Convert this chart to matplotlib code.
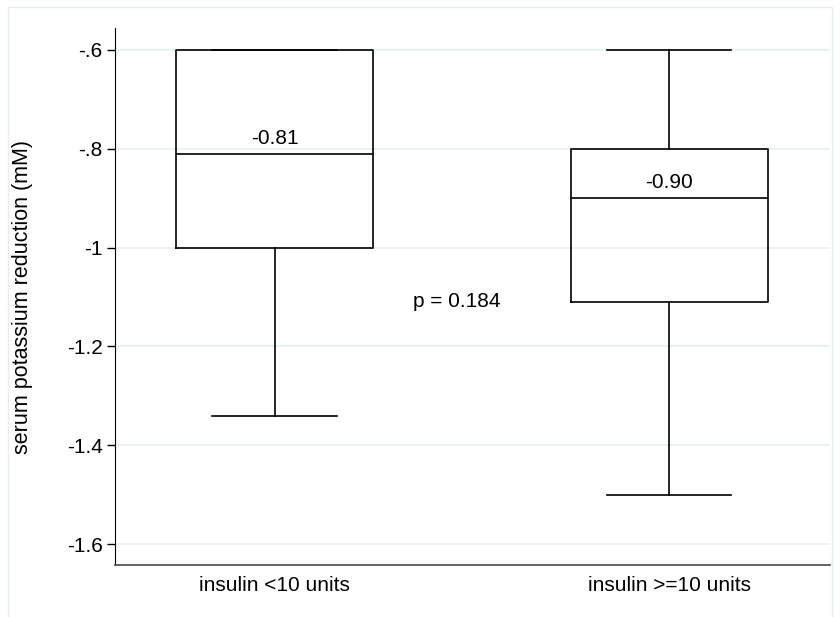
import matplotlib.pyplot as plt
from matplotlib.patches import Rectangle

plt.rcParams['font.family'] = ['Liberation Sans', 'DejaVu Sans']

# box plot summaries
groups = ["insulin <10 units", "insulin >=10 units"]
medians = [-0.81, -0.90]
q1 = [-1.00, -1.11]
q3 = [-0.60, -0.80]
whislo = [-1.34, -1.50]
whishi = [-0.60, -0.60]
median_labels = ["-0.81", "-0.90"]
p_text = "p = 0.184"

yticks = [-0.6, -0.8, -1.0, -1.2, -1.4, -1.6]
ytick_labels = ["-.6", "-.8", "-1", "-1.2", "-1.4", "-1.6"]

fig = plt.figure(figsize=(8.4, 6.17), dpi=100)
W, H = 840, 617
ax = fig.add_axes([115 / W, 1 - 565 / H, (830 - 115) / W, (565 - 28) / H])

# light outer frame like Stata graph region
fig.patches.append(Rectangle((8 / W, -0.05), (832 - 8) / W, 1.05 - 7 / H,
                             transform=fig.transFigure, fill=False,
                             edgecolor="#e6eef0", lw=1.0))

stats = []
for i in range(len(groups)):
    stats.append({"med": medians[i], "q1": q1[i], "q3": q3[i],
                  "whislo": whislo[i], "whishi": whishi[i], "fliers": []})

pos = [1, 2]
ax.bxp(stats, positions=pos, widths=0.5, showfliers=False,
       capwidths=0.315,
       boxprops=dict(color="black", lw=1.2),
       medianprops=dict(color="black", lw=1.2),
       whiskerprops=dict(color="black", lw=1.2),
       capprops=dict(color="black", lw=1.2))

for p, m, lab in zip(pos, medians, median_labels):
    ax.text(p, m + 0.012, lab, ha="center", va="bottom", fontsize=15)

ax.text(1.462, -1.11, p_text, ha="center", va="center", fontsize=15)

ax.set_xlim(0.596, 2.407)
ax.set_ylim(-1.6425, -0.5555)
ax.set_yticks(yticks)
ax.set_yticklabels(ytick_labels)
ax.set_xticks(pos)
ax.set_xticklabels(groups)
ax.tick_params(axis="y", labelsize=15, length=6, width=1, pad=3)
ax.tick_params(axis="x", labelsize=15, length=0, pad=8)
ax.set_ylabel("serum potassium reduction (mM)", fontsize=15.5, labelpad=24)

ax.yaxis.grid(True, color="#e8f0f2", lw=1.2)
ax.set_axisbelow(True)
ax.spines["top"].set_visible(False)
ax.spines["right"].set_visible(False)
ax.spines["left"].set_color("black")
ax.spines["bottom"].set_color("#555555")
ax.spines["bottom"].set_linewidth(1.3)

fig.savefig("out.png", dpi=100)
